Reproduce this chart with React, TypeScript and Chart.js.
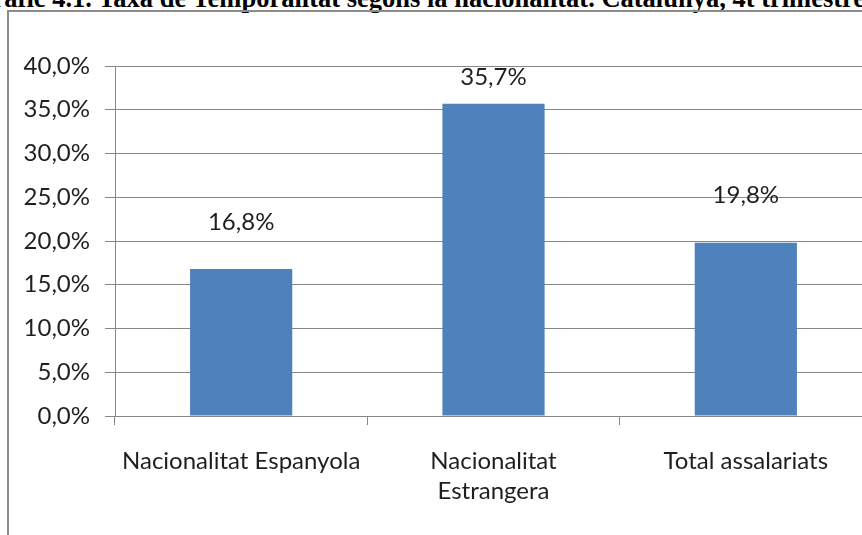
import React, { useEffect, useRef } from "react";
import { Chart, registerables } from "chart.js";

Chart.register(...registerables);

const categories: (string | string[])[] = [
  "Nacionalitat Espanyola",
  ["Nacionalitat", "Estrangera"],
  "Total assalariats",
];
const values = [16.8, 35.7, 19.8];
const yTicks = [0, 5, 10, 15, 20, 25, 30, 35, 40];
const titleText = "Gràfic 4.1. Taxa de Temporalitat segons la nacionalitat. Catalunya, 4t trimestre";

const fmt = (v: number) => v.toFixed(1).replace(".", ",") + "%";

const FONT = "Lato, 'Noto Sans', sans-serif";
const TEXT = "#1f1f1f";
const GRID = "#878787";
const labelGaps = [39, 18, 39];

const labelPlugin = {
  id: "valueLabels",
  afterDatasetsDraw(chart: any) {
    const ctx = chart.ctx;
    const meta = chart.getDatasetMeta(0);
    ctx.save();
    ctx.font = `24px ${FONT}`;
    ctx.fillStyle = TEXT;
    ctx.textAlign = "center";
    ctx.textBaseline = "bottom";
    meta.data.forEach((bar: any, i: number) => {
      ctx.fillText(fmt(values[i]), bar.x, bar.y - labelGaps[i] + 4);
    });
    ctx.restore();
  },
};

export default function App() {
  const ref = useRef<HTMLCanvasElement>(null);
  useEffect(() => {
    if (!ref.current) return;
    const chart = new Chart(ref.current, {
      type: "bar",
      data: {
        labels: categories as any,
        datasets: [
          {
            data: values,
            backgroundColor: "#4F81BD",
            borderWidth: 0,
            barPercentage: 0.405,
            categoryPercentage: 1,
          },
        ],
      },
      options: {
        animation: false,
        responsive: false,
        maintainAspectRatio: false,
        layout: { padding: { top: 66, right: 28, bottom: 0, left: 0 } },
        plugins: { legend: { display: false }, tooltip: { enabled: false }, title: { display: false } },
        scales: {
          x: {
            offset: true,
            grid: {
              offset: true,
              drawOnChartArea: false,
              drawTicks: true,
              tickLength: 9,
              color: GRID,
              lineWidth: 1,
            },
            border: { display: true, color: GRID, width: 1 },
            ticks: {
              color: TEXT,
              font: { family: FONT, size: 24, lineHeight: 1.25 },
              padding: 21,
              maxRotation: 0,
              autoSkip: false,
            },
            afterFit(scale: any) {
              scale.height = 119;
            },
          },
          y: {
            min: 0,
            max: 40,
            afterBuildTicks(scale: any) {
              scale.ticks = yTicks.map((v) => ({ value: v }));
            },
            grid: { color: GRID, lineWidth: 1, tickLength: 10, drawTicks: true },
            border: { display: true, color: GRID, width: 1 },
            ticks: {
              color: TEXT,
              font: { family: FONT, size: 24 },
              padding: 15,
              callback: (v: any) => fmt(Number(v)),
            },
            afterFit(scale: any) {
              scale.width = 115;
            },
          },
        },
      },
      plugins: [labelPlugin],
    });
    return () => chart.destroy();
  }, []);

  return (
    <div
      style={{
        position: "fixed",
        left: 0,
        top: 0,
        width: 862,
        height: 535,
        overflow: "hidden",
        background: "#fff",
      }}
    >
      <div
        style={{
          position: "absolute",
          left: -28,
          top: -15,
          whiteSpace: "nowrap",
          fontFamily: "'Liberation Serif', 'Times New Roman', serif",
          fontWeight: "bold",
          fontSize: 26.5,
          lineHeight: "26.5px",
          color: "#000",
        }}
      >
        {titleText}
      </div>
      <div
        style={{
          position: "absolute",
          left: 7,
          top: 10,
          width: 900,
          height: 600,
          borderLeft: "2px solid #8c8c8c",
          borderTop: "2px solid #8c8c8c",
        }}
      />
      <canvas
        ref={ref}
        width={900}
        height={535}
        style={{ position: "absolute", left: 0, top: 0, width: 900, height: 535 }}
      />
    </div>
  );
}
